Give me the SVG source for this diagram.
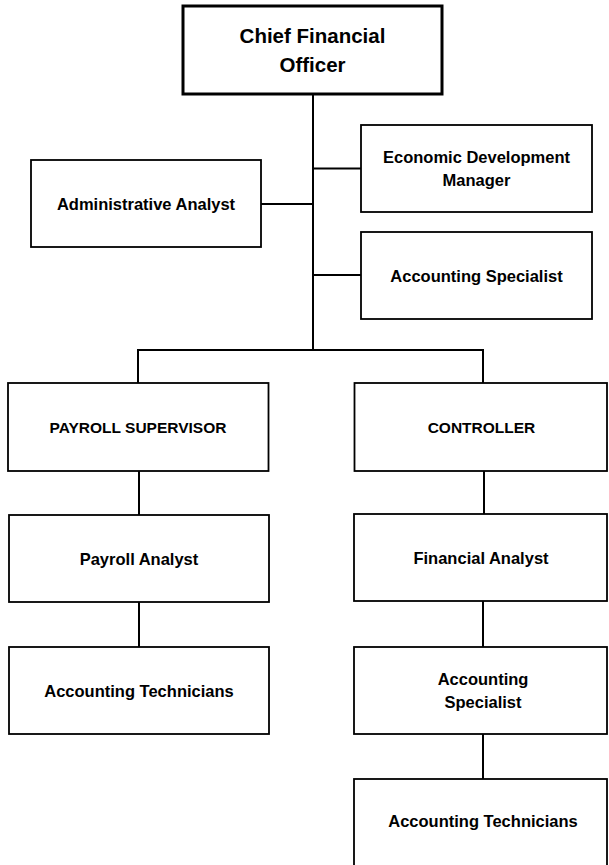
<svg xmlns="http://www.w3.org/2000/svg" width="609" height="865" viewBox="0 0 609 865">
<style>
.box{fill:#fff;stroke:#000;stroke-width:1.8}
.top{fill:#fff;stroke:#000;stroke-width:3}
.c{fill:none;stroke:#000;stroke-width:2}
text{font-family:"Liberation Sans",Arial,sans-serif;font-weight:bold;fill:#000;text-anchor:middle}
.t{font-size:16.5px}
.u{font-size:15.5px}
.h{font-size:20.5px}
</style>
<rect width="609" height="865" fill="#fff"/>
<g id="connectors">
<line class="c" x1="313" y1="94" x2="313" y2="350"/>
<line class="c" x1="313" y1="168.5" x2="361" y2="168.5"/>
<line class="c" x1="261" y1="204" x2="313" y2="204"/>
<line class="c" x1="313" y1="275" x2="361" y2="275"/>
<polyline class="c" points="138,383 138,350 483,350 483,383"/>
<line class="c" x1="139" y1="471" x2="139" y2="515"/>
<line class="c" x1="139" y1="602" x2="139" y2="647"/>
<line class="c" x1="484" y1="471" x2="484" y2="514"/>
<line class="c" x1="483" y1="601" x2="483" y2="647"/>
<line class="c" x1="483" y1="734" x2="483" y2="779"/>
</g>
<g id="cfo">
<rect class="top" x="183" y="6" width="259" height="88"/>
<text class="h" x="312.5" y="43">Chief Financial</text>
<text class="h" x="312.5" y="71.5">Officer</text>
</g>
<g id="admin-analyst">
<rect class="box" x="31" y="160" width="230" height="87"/>
<text class="t" x="146" y="210">Administrative Analyst</text>
</g>
<g id="econ-dev-manager">
<rect class="box" x="361" y="125" width="231" height="87"/>
<text class="t" x="476.5" y="163">Economic Development</text>
<text class="t" x="476.5" y="186">Manager</text>
</g>
<g id="accounting-specialist-top">
<rect class="box" x="361" y="232" width="231" height="87"/>
<text class="t" x="476.5" y="281.5">Accounting Specialist</text>
</g>
<g id="payroll-supervisor">
<rect class="box" x="8" y="383" width="260.5" height="88"/>
<text class="u" x="138" y="433">PAYROLL SUPERVISOR</text>
</g>
<g id="controller">
<rect class="box" x="354.5" y="383" width="252.5" height="88"/>
<text class="u" x="481.5" y="433">CONTROLLER</text>
</g>
<g id="payroll-analyst">
<rect class="box" x="9" y="515" width="260" height="87"/>
<text class="t" x="139" y="565">Payroll Analyst</text>
</g>
<g id="accounting-technicians-left">
<rect class="box" x="9" y="647" width="260" height="87"/>
<text class="t" x="139" y="696.5">Accounting Technicians</text>
</g>
<g id="financial-analyst">
<rect class="box" x="354" y="514" width="253" height="87"/>
<text class="t" x="481" y="564">Financial Analyst</text>
</g>
<g id="accounting-specialist-right">
<rect class="box" x="354" y="647" width="253" height="87"/>
<text class="t" x="483" y="685">Accounting</text>
<text class="t" x="483" y="708">Specialist</text>
</g>
<g id="accounting-technicians-right">
<rect class="box" x="354" y="779" width="253" height="88"/>
<text class="t" x="483" y="827">Accounting Technicians</text>
</g>
</svg>
